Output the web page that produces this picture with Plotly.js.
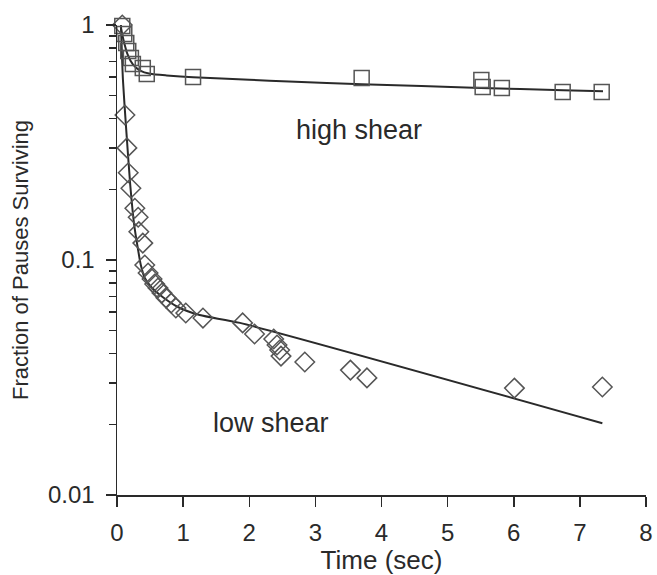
<!DOCTYPE html>
<html><head><meta charset="utf-8">
<script src="https://cdn.plot.ly/plotly-3.0.1.min.js"></script>
<style>html,body{margin:0;padding:0;background:#fff}#chart{width:657px;height:575px}</style>
</head><body><div id="chart"></div>
<script>
// High shear (squares)
const highTime = [0.08, 0.11, 0.14, 0.17, 0.21, 0.24, 0.39, 0.45, 1.15, 3.70, 5.51, 5.53, 5.82, 6.74, 7.33];
const highFraction = [0.99, 0.915, 0.838, 0.775, 0.724, 0.682, 0.656, 0.619, 0.601, 0.595, 0.583, 0.545, 0.540, 0.519, 0.519];
// Low shear (diamonds)
const lowTime = [0.08, 0.12, 0.15, 0.17, 0.21, 0.27, 0.32, 0.33, 0.39, 0.42, 0.47, 0.53, 0.57, 0.62, 0.68, 0.74, 0.82, 0.89, 1.04, 1.30, 1.90, 2.08, 2.37, 2.42, 2.46, 2.48, 2.84, 3.53, 3.78, 6.01, 7.34];
const lowFraction = [1.0, 0.414, 0.300, 0.235, 0.202, 0.166, 0.152, 0.132, 0.118, 0.0952, 0.088, 0.083, 0.079, 0.076, 0.0724, 0.069, 0.0656, 0.0625, 0.0595, 0.0566, 0.054, 0.0484, 0.0461, 0.0435, 0.0414, 0.039, 0.0368, 0.034, 0.0315, 0.0285, 0.0288];
// Fitted curves
const highFitTime = [0.06, 0.10, 0.16, 0.24, 0.35, 0.50, 0.75, 1.15, 2.0, 2.6, 3.7, 5.5, 6.75, 7.35];
const highFitFraction = [0.97, 0.86, 0.75, 0.68, 0.64, 0.62, 0.61, 0.60, 0.585, 0.575, 0.56, 0.54, 0.528, 0.522];
const lowFitTime = [0.06, 0.09, 0.14, 0.20, 0.26, 0.32, 0.36, 0.42, 0.53, 0.69, 0.92, 1.25, 1.86, 7.34];
const lowFitFraction = [1.0, 0.583, 0.357, 0.209, 0.141, 0.110, 0.0952, 0.0838, 0.076, 0.0696, 0.0631, 0.0583, 0.054, 0.0202];
// Ticks
const xTickVals = [0, 1, 2, 3, 4, 5, 6, 7, 8];
const yTickVals = [0.01, 0.1, 1];
const yTickText = ['0.01', '0.1', '1'];
const yMinorVals = [0.02, 0.03, 0.04, 0.05, 0.06, 0.07, 0.08, 0.09, 0.2, 0.3, 0.4, 0.5, 0.6, 0.7, 0.8, 0.9];
const labels = {high: 'high shear', low: 'low shear', x: 'Time (sec)', y: 'Fraction of Pauses Surviving'};

const ink = '#2a2a2a';
const font = 'Liberation Sans, Arial, sans-serif';

const traces = [
  {x: highFitTime, y: highFitFraction, mode: 'lines', line: {color: ink, width: 2, shape: 'spline', smoothing: 0.6}, cliponaxis: false, hoverinfo: 'skip'},
  {x: lowFitTime, y: lowFitFraction, mode: 'lines', line: {color: ink, width: 2, shape: 'spline', smoothing: 0.6}, cliponaxis: false, hoverinfo: 'skip'},
  {x: highTime, y: highFraction, mode: 'markers', marker: {symbol: 'square-open', size: 15, color: '#555', line: {width: 1.5, color: '#555'}}, cliponaxis: false},
  {x: lowTime, y: lowFraction, mode: 'markers', marker: {symbol: 'diamond-open', size: 15, color: '#555', line: {width: 1.5, color: '#555'}}, cliponaxis: false}
];

const layout = {
  width: 657, height: 575,
  margin: {l: 117, r: 11, t: 25, b: 80},
  paper_bgcolor: '#fff', plot_bgcolor: '#fff',
  showlegend: false,
  font: {family: font, color: ink, size: 24},
  xaxis: {
    range: [0, 8], tickvals: xTickVals, ticks: 'outside', ticklen: 10, tickwidth: 1.5, tickcolor: ink,
    showline: true, linecolor: ink, linewidth: 1.5, showgrid: false, zeroline: false,
    tickfont: {size: 24, family: font, color: ink}, ticklabelstandoff: 6,
    title: {text: labels.x, font: {size: 26, family: font, color: ink}, standoff: 6}
  },
  yaxis: {
    type: 'log', range: [-2, 0], tickvals: yTickVals, ticktext: yTickText,
    ticks: 'outside', ticklen: 10, tickwidth: 1.5, tickcolor: ink,
    minor: {tickvals: yMinorVals, ticks: 'outside', ticklen: 7, tickwidth: 1.5, tickcolor: ink, showgrid: false},
    showline: true, linecolor: ink, linewidth: 1.5, showgrid: false, zeroline: false,
    tickfont: {size: 24, family: font, color: ink}, ticklabelstandoff: 6,
    title: {text: labels.y, font: {size: 22, family: font, color: ink}, standoff: 13}
  },
  annotations: [
    {x: 3.66, y: Math.log10(0.357), xref: 'x', yref: 'y', text: labels.high, showarrow: false, font: {size: 27, family: font, color: ink}},
    {x: 2.33, y: Math.log10(0.0202), xref: 'x', yref: 'y', text: labels.low, showarrow: false, font: {size: 27, family: font, color: ink}}
  ]
};

Plotly.newPlot('chart', traces, layout, {displayModeBar: false, staticPlot: true});
</script>
</body></html>
